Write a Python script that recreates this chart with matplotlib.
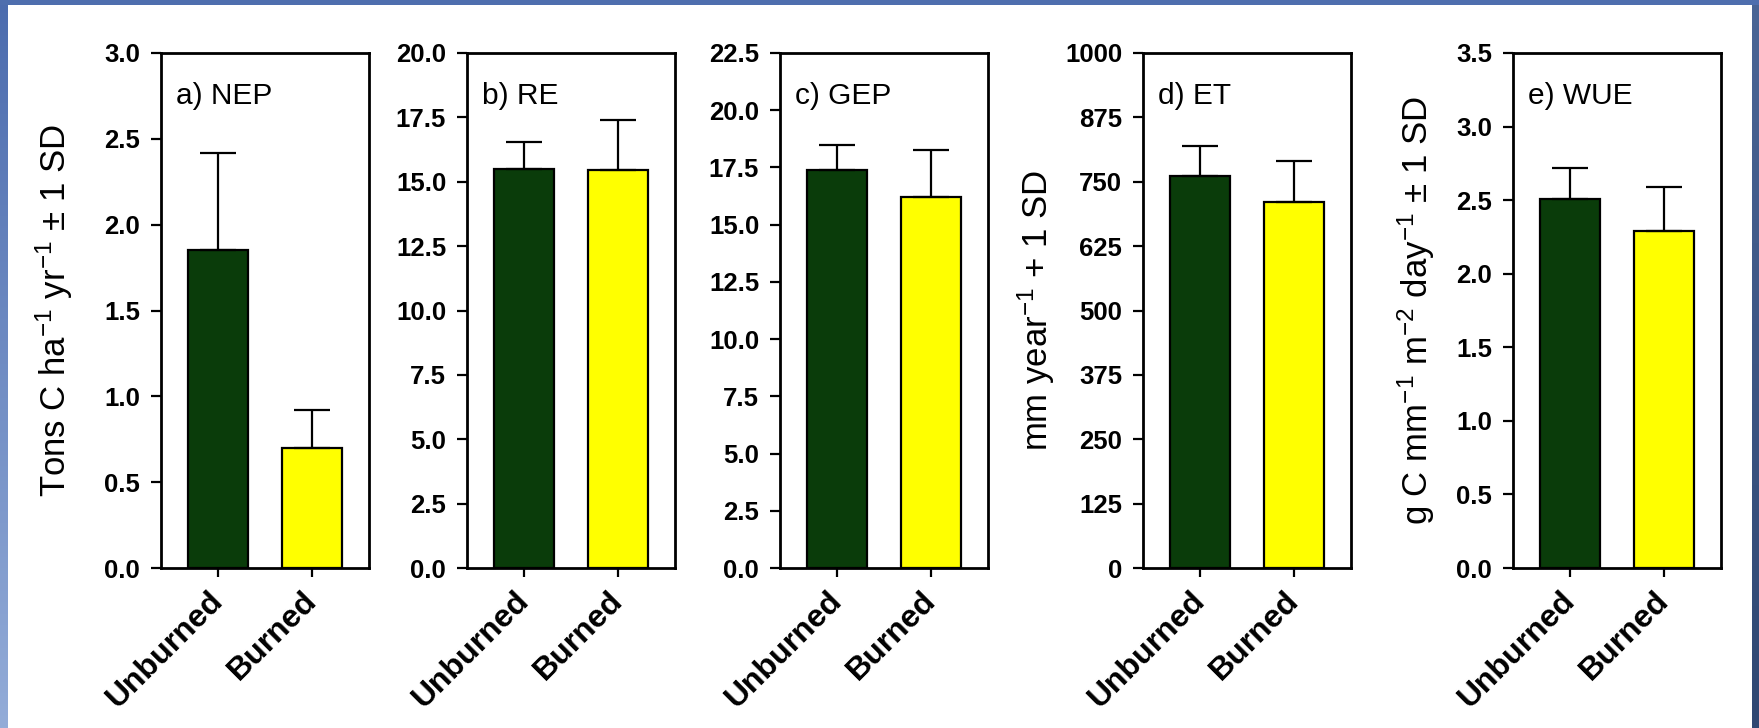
import matplotlib
matplotlib.use("Agg")
import matplotlib.pyplot as plt
import numpy as np

plt.rcParams['font.family'] = ['Liberation Sans', 'DejaVu Sans']
plt.rcParams['mathtext.fontset'] = 'custom'
plt.rcParams['mathtext.rm'] = 'Liberation Sans'
plt.rcParams['mathtext.it'] = 'Liberation Sans'

# Datos
sites = ['Unburned', 'Burned']
nep = [1.85, 0.70]
nep_sd = [0.57, 0.22]
re = [15.5, 15.45]
re_sd = [1.03, 1.95]
gep = [17.37, 16.19]
gep_sd = [1.13, 2.07]
et = [762, 710]
et_sd = [57, 81]
wue = [2.51, 2.29]
wue_sd = [0.21, 0.30]

panels = [
    ('a) NEP', nep, nep_sd, np.arange(0, 3.01, 0.5), '{:.1f}',
     'Tons C ha$^{-1}$ yr$^{-1}$ \u00b1 1 SD'),
    ('b) RE', re, re_sd, np.arange(0, 20.01, 2.5), '{:.1f}', None),
    ('c) GEP', gep, gep_sd, np.arange(0, 22.51, 2.5), '{:.1f}', None),
    ('d) ET', et, et_sd, np.arange(0, 1001, 125), '{:.0f}',
     'mm year$^{-1}$ + 1 SD'),
    ('e) WUE', wue, wue_sd, np.arange(0, 3.51, 0.5), '{:.1f}',
     'g C mm$^{-1}$ m$^{-2}$ day$^{-1}$ \u00b1 1 SD'),
]

W, H = 1759, 728
fig = plt.figure(figsize=(W / 100, H / 100), dpi=100)
fig.patch.set_facecolor('white')

# borde azul de la diapositiva
axl = fig.add_axes([0, 0, 7 / W, 1])
grad = np.linspace(0, 1, 256).reshape(-1, 1)
axl.imshow(grad, aspect='auto', cmap=matplotlib.colors.LinearSegmentedColormap.from_list(
    'b', ['#4c6cae', '#93acd8']), extent=[0, 1, 0, 1])
axl.axis('off')
axr = fig.add_axes([1752 / W, 0, 7 / W, 1])
axr.imshow(grad, aspect='auto', cmap=matplotlib.colors.LinearSegmentedColormap.from_list(
    'r', ['#4a6596', '#2f4772']), extent=[0, 1, 0, 1])
axr.axis('off')
axt = fig.add_axes([0, 1 - 5 / H, 1, 5 / H])
axt.set_facecolor('#4e6eae')
axt.set_xticks([])
axt.set_yticks([])
for s in axt.spines.values():
    s.set_visible(False)

lefts = [161, 467, 780, 1143, 1513]
label_x = [-0.46, None, None, -0.46, -0.41]
colors = ['#0a3c0a', '#ffff00']
x = np.arange(len(sites))

for i, (title, vals, sd, ticks, fmt, ylab) in enumerate(panels):
    ax = fig.add_axes([lefts[i] / W, 160 / H, 208 / W, 515 / H])
    ax.bar(x, vals, width=0.63, color=colors, edgecolor='black', linewidth=1.6, zorder=2)
    ax.errorbar(x, vals, yerr=[[0, 0], sd], fmt='none', ecolor='black',
                elinewidth=1.6, capsize=13, capthick=1.6, zorder=3)
    ax.set_xlim(-0.606, 1.606)
    ax.set_ylim(ticks[0], ticks[-1])
    ax.set_yticks(ticks)
    ax.set_yticklabels([fmt.format(t) for t in ticks], fontsize=18.5, fontweight='bold')
    ax.set_xticks(x)
    ax.set_xticklabels(sites, fontsize=23, fontweight='bold', rotation=45,
                       ha='right', va='center', rotation_mode='anchor')
    ax.tick_params(axis='y', direction='out', length=7, width=1.6, pad=8)
    ax.tick_params(axis='x', direction='out', length=6.5, width=1.6, pad=14)
    for s in ax.spines.values():
        s.set_linewidth(2)
    ax.text(0.07, 0.90, title, transform=ax.transAxes, fontsize=21.5, va='baseline')
    if ylab:
        ax.set_ylabel(ylab, fontsize=25, va='baseline')
        ax.yaxis.set_label_coords(label_x[i], 0.5)

fig.savefig('out.png', dpi=100, facecolor='white')
